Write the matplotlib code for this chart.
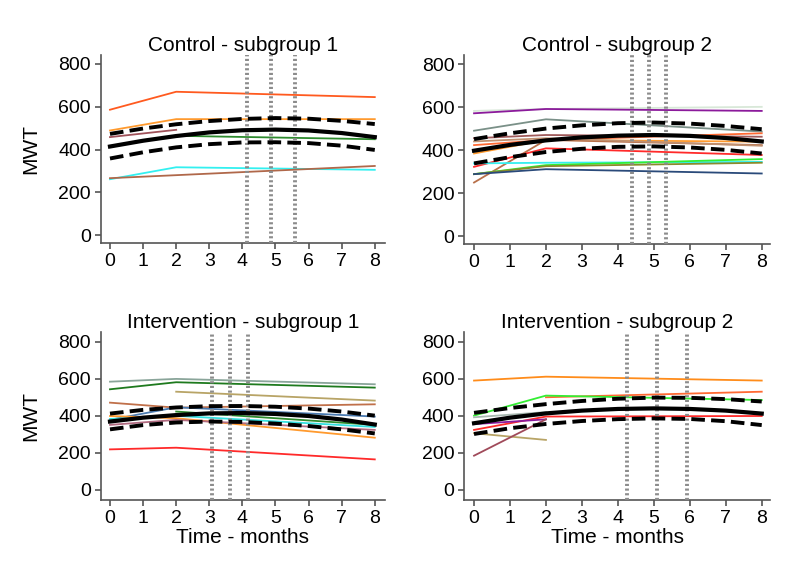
import matplotlib.pyplot as plt

plt.rcParams['font.family'] = ['Liberation Sans', 'DejaVu Sans']

# fitted curve (quadratic fit) and confidence band, read at months 0..8
fit_t = [0, 1, 2, 3, 4, 5, 6, 7, 8]

# Control - subgroup 1
c1_fit = [414, 441, 463, 480, 490, 493, 489, 477, 458]
c1_hi = [473, 498, 518, 533, 543, 547, 544, 534, 519]
c1_lo = [358, 387, 410, 425, 433, 434, 430, 418, 398]
c1_time = [[0, 2, 8], [0, 2, 8], [0, 2], [2, 8], [0, 2, 8], [0, 2, 8]]
c1_mwt = [[586, 670, 645], [489, 542, 542], [458, 492], [464, 448],
          [261, 317, 305], [266, 280, 323]]
c1_vl = [4.13, 4.86, 5.59]

# Control - subgroup 2
c2_fit = [397, 424, 445, 459, 467, 470, 466, 456, 440]
c2_hi = [451, 478, 500, 515, 525, 528, 523, 512, 497]
c2_lo = [338, 367, 391, 406, 415, 417, 412, 401, 384]
c2_time = [[0, 2, 8]] * 13
c2_mwt = [[582, 591, 601], [571, 591, 582], [490, 543, 486], [455, 470, 462],
          [423, 447, 478], [384, 447, 439], [249, 447, 423], [322, 408, 377],
          [338, 341, 345], [288, 330, 358], [288, 325, 341], [288, 311, 291],
          [440, 455, 420]]
c2_vl = [4.39, 4.87, 5.35]

# Intervention - subgroup 1
i1_fit = [369, 390, 404, 413, 415, 410, 399, 380, 353]
i1_hi = [412, 432, 445, 452, 453, 449, 439, 423, 401]
i1_lo = [327, 350, 364, 369, 367, 358, 345, 327, 305]
i1_time = [[0, 2, 8], [0, 2, 8], [2, 8], [0, 2, 8], [0, 2, 8], [2, 8],
           [0, 2, 8], [0, 2, 8], [0, 2, 8], [0, 2, 8]]
i1_mwt = [[584, 599, 570], [543, 581, 552], [530, 482], [471, 444, 462],
          [378, 446, 396], [423, 351], [383, 400, 340], [399, 387, 282],
          [351, 378, 324], [219, 228, 165]]
i1_vl = [3.07, 3.63, 4.16]

# Intervention - subgroup 2
i2_fit = [360, 390, 413, 428, 437, 440, 437, 428, 412]
i2_hi = [416, 442, 463, 480, 492, 498, 497, 490, 477]
i2_lo = [302, 333, 356, 372, 382, 386, 383, 371, 350]
i2_time = [[0, 2, 8], [2, 8], [0, 2, 8], [0, 2], [0, 2, 8], [0, 2], [0, 2], [0, 2]]
i2_mwt = [[590, 611, 590], [500, 530], [401, 509, 485], [392, 420],
          [324, 396, 399], [355, 381], [306, 270], [185, 381]]
i2_vl = [4.26, 5.10, 5.91]

titles = ['Control - subgroup 1', 'Control - subgroup 2',
          'Intervention - subgroup 1', 'Intervention - subgroup 2']

c1_col = ['#ff5a1f', '#ff9a2e', '#a0525a', '#2e8b2e', '#33f0f0', '#b0684a']
c2_col = ['#d8e8d8', '#8b1a9b', '#7a9088', '#a05a5a', '#ff6a33', '#ff9a2e',
          '#b8704a', '#ff2a2a', '#33f0f0', '#33ee33', '#8a8a2a', '#2a4a7a',
          '#c09070']
i1_col = ['#8aa59a', '#1e7a1e', '#b8a466', '#c0704a', '#4a7ab0', '#2e8b2e',
          '#33e0e0', '#ff9a2e', '#b06a80', '#ff2a2a']
i2_col = ['#ff8c1a', '#ff6a33', '#33ee33', '#a8b8b0', '#ff2a2a', '#8b1a9b',
          '#b8a466', '#a04a5a']

panels = [
    (c1_time, c1_mwt, c1_col, c1_fit, c1_hi, c1_lo, c1_vl),
    (c2_time, c2_mwt, c2_col, c2_fit, c2_hi, c2_lo, c2_vl),
    (i1_time, i1_mwt, i1_col, i1_fit, i1_hi, i1_lo, i1_vl),
    (i2_time, i2_mwt, i2_col, i2_fit, i2_hi, i2_lo, i2_vl),
]

boxes = [[0.1259, 0.5818, 0.3554, 0.3236],
         [0.5804, 0.5800, 0.3821, 0.3253],
         [0.1259, 0.1394, 0.3554, 0.2892],
         [0.5804, 0.1394, 0.3821, 0.2892]]
xlims = [(-0.28, 8.31), (-0.27, 8.23), (-0.28, 8.31), (-0.27, 8.23)]
ylims = [(-37, 842), (-37, 842), (-54, 852), (-54, 852)]

fig = plt.figure(figsize=(8, 5.81), dpi=100)

for k, (tt, mm, cols, fit, hi, lo, vl) in enumerate(panels):
    ax = fig.add_axes(boxes[k])
    for t, m, c in zip(tt, mm, cols):
        ax.plot(t, m, color=c, lw=1.3, zorder=2)
    for v in vl:
        ax.axvline(v, color='#8c8c8c', lw=2.8, ls=(0, (0.55, 0.65)), zorder=3)
    ax.plot(fit_t, fit, color='black', lw=3.0, zorder=4)
    ax.plot(fit_t, hi, color='black', lw=2.8, ls=(0, (3.5, 1.6)), zorder=4)
    ax.plot(fit_t, lo, color='black', lw=2.8, ls=(0, (3.5, 1.6)), zorder=4)

    ax.set_xlim(xlims[k])
    ax.set_ylim(ylims[k])
    ax.set_xticks(range(9))
    ax.set_yticks([0, 200, 400, 600, 800])
    ax.spines['top'].set_visible(False)
    ax.spines['right'].set_visible(False)
    for s in ['left', 'bottom']:
        ax.spines[s].set_color('#555555')
        ax.spines[s].set_linewidth(1.2)
    ax.tick_params(labelsize=14, length=4, width=1.2, color='#555555', pad=3)
    ax.set_title(titles[k], fontsize=15, pad=3)

    if k % 2 == 0:
        ax.set_ylabel('MWT', fontsize=15)
        ax.yaxis.set_label_coords(-0.2135, 0.5)
    if k >= 2:
        ax.set_xlabel('Time - months', fontsize=15)
        ax.xaxis.set_label_coords(0.5, -0.226)
        ax.xaxis.label.set_va('center')

fig.savefig('out.png', dpi=100, facecolor='white')
